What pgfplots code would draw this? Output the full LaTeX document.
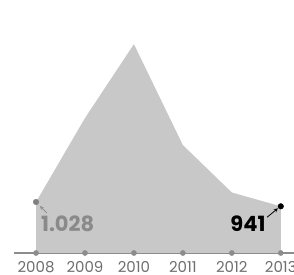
\documentclass[border=0pt]{standalone}
\usepackage{pgfplots}
\pgfplotsset{compat=1.18}
\usepackage{fontspec}
\setmainfont{Poppins}
\definecolor{areagray}{HTML}{C8C8C8}
\definecolor{axgray}{HTML}{8C8C8C}
\definecolor{labgray}{HTML}{8A8A8A}
\definecolor{tickgray}{HTML}{6E6E6E}
\begin{document}
\begin{tikzpicture}[x=1pt,y=1pt]
\begin{axis}[
  name=ax,
  scale only axis,
  width=280pt, height=253pt,
  xmin=2007.55, xmax=2013.27,
  ymin=0, ymax=5100,
  axis y line=none,
  axis x line=bottom,
  axis line style={-, axgray, line width=1.8pt},
  xtick={2008,2009,2010,2011,2012,2013},
  xticklabels={2008,2009,2010,2011,2012,2013},
  major tick length=0pt,
  x tick label style={font=\fontsize{15}{15}\selectfont, text=tickgray, anchor=north, inner sep=0pt, text depth=0pt, yshift=-8.5pt},
  clip=false,
]
\addplot[fill=areagray, draw=none] coordinates {
  (2008,1028) (2009,2720) (2010,4210) (2011,2175) (2012,1220) (2013,941)
} \closedcycle;
\addplot[only marks, mark=*, mark size=2.6pt, color=axgray] coordinates {
  (2008,0) (2009,0) (2010,0) (2011,0) (2012,0) (2013,0)
};
\addplot[only marks, mark=*, mark size=2.8pt, color=gray] coordinates {(2008,1028)};
\addplot[only marks, mark=*, mark size=2.8pt, color=black] coordinates {(2013,941)};
\node[anchor=west, inner sep=0pt, text=labgray, font=\bfseries\fontsize{21}{21}\selectfont] at (axis cs:2008.1,585) {1.028};
\node[anchor=east, inner sep=0pt, text=black, font=\bfseries\fontsize{21}{21}\selectfont] at (axis cs:2012.69,585) {941};
\draw[-stealth, labgray, line width=0.7pt] (axis cs:2008.22,806) -- (axis cs:2008.08,947);
\draw[-stealth, black, line width=0.8pt] (axis cs:2012.72,720) -- (axis cs:2012.94,900);
\end{axis}
\pgfresetboundingbox
\useasboundingbox ([xshift=-14pt,yshift=-22pt]ax.south west) rectangle (ax.north east);
\end{tikzpicture}
\end{document}
